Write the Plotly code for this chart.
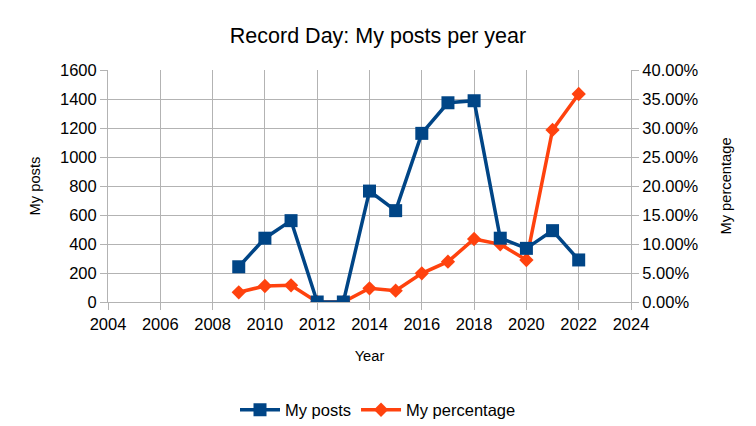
import plotly.graph_objects as go

years = [2009, 2010, 2011, 2012, 2013, 2014, 2015, 2016, 2017, 2018, 2019, 2020, 2021, 2022]
my_posts = [243, 440, 561, 0, 0, 765, 630, 1163, 1374, 1388, 440, 370, 492, 290]
my_percentage = [0.0167, 0.0276, 0.0288, 0.0, 0.0, 0.0236, 0.0195, 0.0495, 0.0695, 0.1086, 0.0995, 0.0724, 0.2966, 0.3586]

FONT = "Liberation Sans, Arial, sans-serif"
GRID = "#b3b3b3"

fig = go.Figure()
# posts on the overlaying axis (y2, left side) so its markers are drawn above the percentage line
fig.add_trace(go.Scatter(
    x=years, y=my_posts, name="My posts", mode="lines+markers",
    line=dict(color="#004586", width=3.5),
    marker=dict(symbol="square", size=13, color="#004586"),
    yaxis="y2"))
fig.add_trace(go.Scatter(
    x=years, y=my_percentage, name="My percentage", mode="lines+markers",
    line=dict(color="#ff420e", width=3.5),
    marker=dict(symbol="diamond", size=11, color="#ff420e"),
    yaxis="y"))

fig.update_layout(
    width=756, height=426,
    margin=dict(l=108, r=125, t=70, b=124, autoexpand=False),
    paper_bgcolor="white", plot_bgcolor="white",
    font=dict(family=FONT, size=16, color="black"),
    title=dict(text="Record Day: My posts per year", x=378 / 756, xref="container", xanchor="center",
               y=1 - 35 / 426, yref="container", yanchor="middle",
               font=dict(size=21.5, family=FONT)),
    xaxis=dict(range=[2004, 2024], dtick=2, tick0=2004, showgrid=True, gridcolor=GRID,
               showline=True, linecolor=GRID, ticks="outside", ticklen=7, tickcolor=GRID,
               zeroline=False, tickfont=dict(size=16.5), automargin=False,
               title=dict(text="Year", standoff=18, font=dict(size=14.7))),
    yaxis2=dict(range=[0, 1600], dtick=200, showgrid=True, gridcolor=GRID,
                overlaying="y", side="left",
                showline=True, linecolor=GRID, ticks="outside", ticklen=7, tickcolor=GRID,
                zeroline=False, tickfont=dict(size=16.5), automargin=False,
                title=dict(text="My posts", standoff=15, font=dict(size=14.7))),
    yaxis=dict(range=[0, 0.4], dtick=0.05, tickformat=".2%", side="right",
               showgrid=True, gridcolor=GRID, showline=True, linecolor=GRID, ticks="outside", ticklen=7,
               tickcolor=GRID, zeroline=False, tickfont=dict(size=16.5), automargin=False,
               title=dict(text="My percentage", standoff=23, font=dict(size=14.7))),
    legend=dict(orientation="h", x=(378 - 108) / 523, xanchor="center",
                y=(302 - 410) / 232, yanchor="middle", font=dict(size=16.5),
                itemwidth=40, tracegroupgap=0, traceorder="normal"),
    showlegend=True,
)

fig.write_html("out.html")
